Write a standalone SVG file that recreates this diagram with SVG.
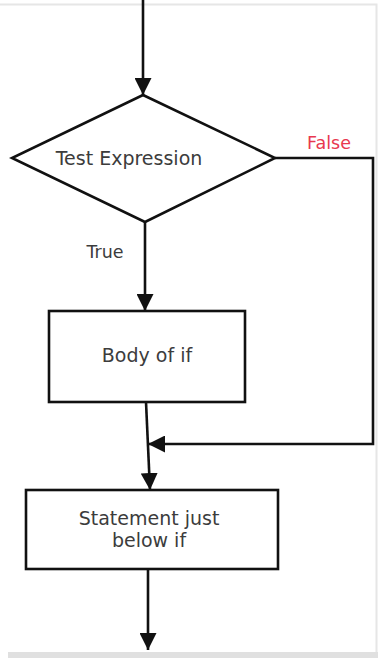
<svg xmlns="http://www.w3.org/2000/svg" width="378" height="658" viewBox="0 0 378 658">
<style>
.shape{fill:#fff;stroke:#111;stroke-width:2.6}
.conn{fill:none;stroke:#111;stroke-width:2.6}
.lbl{font-family:"DejaVu Sans",sans-serif;font-size:19px;fill:#3c3c3c;text-anchor:middle}
</style>
<defs>
<marker id="ah" markerUnits="userSpaceOnUse" markerWidth="17" markerHeight="17" viewBox="0 0 17 17" refX="17" refY="8.5" orient="auto">
<path d="M0,0 L17,8.5 L0,17 Z" fill="#111"/>
</marker>
</defs>
<rect x="0" y="0" width="378" height="658" fill="#fff"/>
<path d="M0,4.5 H376.5 V652" fill="none" stroke="#e6e6e6" stroke-width="2"/>
<rect x="8" y="652" width="370" height="6" fill="#e0e0e0"/>
<g id="connectors">
<line class="conn" x1="143" y1="0" x2="143" y2="95" marker-end="url(#ah)"/>
<line class="conn" x1="145" y1="222" x2="145" y2="311" marker-end="url(#ah)"/>
<line class="conn" x1="146" y1="402" x2="150" y2="490" marker-end="url(#ah)"/>
<polyline class="conn" points="275,158 373,158 373,444 148,444" marker-end="url(#ah)"/>
<line class="conn" x1="148" y1="569" x2="148" y2="650" marker-end="url(#ah)"/>
<text x="329" y="149" class="lbl" style="fill:#e8384f;font-size:17.5px">False</text>
<text x="105" y="258" class="lbl" style="font-size:17.5px">True</text>
</g>
<g id="test-expression">
<polygon class="shape" points="143,95 275,158 145,222 12,158"/>
<text x="129" y="165" class="lbl">Test Expression</text>
</g>
<g id="body-of-if">
<rect class="shape" x="49" y="311" width="196" height="91"/>
<text x="147" y="362" class="lbl">Body of if</text>
</g>
<g id="statement">
<rect class="shape" x="26" y="490" width="252" height="79"/>
<text x="149" y="525" class="lbl">Statement just</text>
<text x="149" y="547" class="lbl">below if</text>
</g>
</svg>
